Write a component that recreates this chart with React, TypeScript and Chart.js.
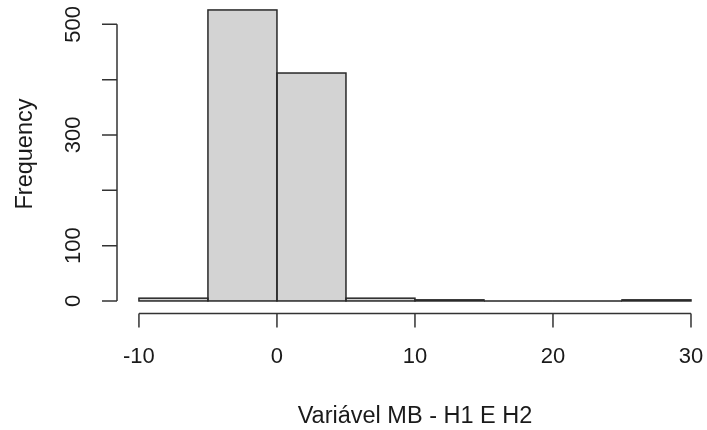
import React, { useEffect, useRef } from "react";
import { Chart, registerables } from "chart.js";

Chart.register(...registerables);

const binStarts = [-10, -5, 0, 5, 10, 15, 20, 25];
const binWidth = 5;
const counts = [5, 526, 412, 5, 2, 0, 0, 2];
const xTicks = [-10, 0, 10, 20, 30];
const yTicks = [0, 100, 200, 300, 400, 500];
const yTickLabels = [0, 100, 300, 500];
const xTitle = "Variável MB - H1 E H2";
const yTitle = "Frequency";

const W = 707;
const H = 430;
const FONT = '"Liberation Sans", Arial, sans-serif';

const rAxesPlugin = {
  id: "rAxes",
  afterDatasetsDraw(chart: any) {
    const ctx = chart.ctx;
    const meta = chart.getDatasetMeta(0);
    ctx.save();
    ctx.strokeStyle = "#2a2a2a";
    ctx.lineWidth = 1.5;
    meta.data.forEach((el: any) => {
      const left = el.x - el.width / 2;
      const top = Math.min(el.y, el.base);
      const h = Math.abs(el.base - el.y);
      ctx.strokeRect(left, top, el.width, h);
    });
    ctx.restore();
  },
  afterDraw(chart: any) {
    const ctx = chart.ctx;
    const xs = chart.scales.x;
    const ys = chart.scales.y;
    const area = chart.chartArea;
    ctx.save();
    ctx.strokeStyle = "#333333";
    ctx.lineWidth = 1.5;
    ctx.fillStyle = "#1a1a1a";

    // y axis
    const yAxisX = area.left;
    ctx.beginPath();
    ctx.moveTo(yAxisX, ys.getPixelForValue(yTicks[0]));
    ctx.lineTo(yAxisX, ys.getPixelForValue(yTicks[yTicks.length - 1]));
    yTicks.forEach((t) => {
      const py = ys.getPixelForValue(t);
      ctx.moveTo(yAxisX, py);
      ctx.lineTo(yAxisX - 15, py);
    });
    ctx.stroke();

    ctx.font = `22px ${FONT}`;
    ctx.textAlign = "center";
    ctx.textBaseline = "alphabetic";
    yTickLabels.forEach((t) => {
      const py = ys.getPixelForValue(t);
      ctx.save();
      ctx.translate(80, py);
      ctx.rotate(-Math.PI / 2);
      ctx.fillText(String(t), 0, 0);
      ctx.restore();
    });

    // x axis
    const xAxisY = area.bottom + 0.8;
    ctx.beginPath();
    ctx.moveTo(xs.getPixelForValue(xTicks[0]), xAxisY);
    ctx.lineTo(xs.getPixelForValue(xTicks[xTicks.length - 1]), xAxisY);
    xTicks.forEach((t) => {
      const px = xs.getPixelForValue(t);
      ctx.moveTo(px, xAxisY);
      ctx.lineTo(px, xAxisY + 14);
    });
    ctx.stroke();

    xTicks.forEach((t) => {
      const px = xs.getPixelForValue(t);
      ctx.fillText(String(t), px, 363);
    });

    // titles
    ctx.font = `23.5px ${FONT}`;
    ctx.fillText(xTitle, 415, 423);
    ctx.save();
    ctx.translate(32, 154);
    ctx.rotate(-Math.PI / 2);
    ctx.fillText(yTitle, 0, 0);
    ctx.restore();

    ctx.restore();
  },
};

export default function App() {
  const canvasRef = useRef<HTMLCanvasElement | null>(null);

  useEffect(() => {
    const canvas = canvasRef.current;
    if (!canvas) return;
    const chart = new Chart(canvas, {
      type: "bar",
      data: {
        datasets: [
          {
            data: binStarts.map((s, i) => ({ x: s + binWidth / 2, y: counts[i] })),
            backgroundColor: "#D3D3D3",
            borderWidth: 0,
            barPercentage: 1,
            categoryPercentage: 1,
          },
        ],
      },
      options: {
        responsive: false,
        animation: false,
        layout: { padding: { left: 117, right: 0, top: 0, bottom: H - 312.6 } },
        scales: {
          x: { type: "linear", min: -11.59, max: 31.16, display: false, offset: false, grid: { offset: false } },
          y: { type: "linear", min: -21.04, max: 544, display: false },
        },
        plugins: {
          legend: { display: false },
          tooltip: { enabled: false },
        },
      },
      plugins: [rAxesPlugin],
    });
    return () => chart.destroy();
  }, []);

  return (
    <div style={{ position: "absolute", left: 0, top: 0, width: W, height: H, background: "#fff" }}>
      <canvas ref={canvasRef} width={W} height={H} style={{ display: "block", width: W, height: H }} />
    </div>
  );
}
